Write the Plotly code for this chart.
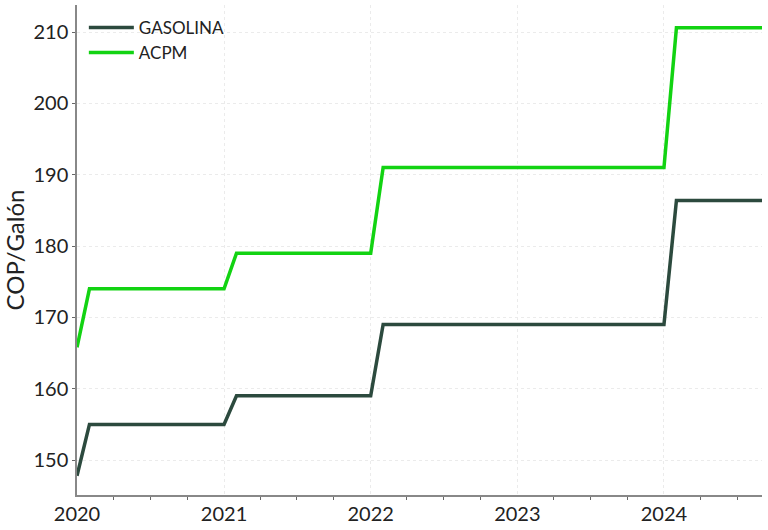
import plotly.graph_objects as go
import pandas as pd

months = pd.date_range("2020-01-01", "2024-09-01", freq="MS")

# yearly levels (value in Jan 2020, then Feb-Dec level per year)
gas_jan2020 = 147.8
gas_levels = {2020: 155, 2021: 159, 2022: 169, 2023: 169, 2024: 186.4}
acpm_jan2020 = 165.8
acpm_levels = {2020: 174, 2021: 179, 2022: 191, 2023: 191, 2024: 210.6}

def build(jan0, levels):
    vals = []
    for d in months:
        if d.year == 2020 and d.month == 1:
            vals.append(jan0)
        elif d.month == 1:
            vals.append(levels[d.year - 1])
        else:
            vals.append(levels[d.year])
    return vals

gasolina = build(gas_jan2020, gas_levels)
acpm = build(acpm_jan2020, acpm_levels)

FONT = "Lato"
fig = go.Figure()
fig.add_trace(go.Scatter(x=months, y=gasolina, mode="lines", name="GASOLINA",
                         line=dict(color="#2C4A3E", width=3.5)))
fig.add_trace(go.Scatter(x=months, y=acpm, mode="lines", name="ACPM",
                         line=dict(color="#12D312", width=3.5)))

fig.update_layout(
    width=768, height=530,
    margin=dict(l=77, r=6, t=5, b=33),
    paper_bgcolor="white", plot_bgcolor="white",
    font=dict(family=FONT, color="#222"),
    legend=dict(x=0.01, y=0.99, xanchor="left", yanchor="top",
                bgcolor="rgba(0,0,0,0)", font=dict(size=17, family=FONT, color="#222"),
                tracegroupgap=0, itemwidth=45),
    showlegend=True,
)
fig.update_xaxes(
    range=["2020-01-01", "2024-09-01"],
    dtick="M12", tickformat="%Y",
    tickfont=dict(size=20, family=FONT, color="#222"),
    showline=True, linecolor="#888", linewidth=1.5,
    showgrid=True, gridcolor="#ebebeb", griddash="dot", gridwidth=1,
    ticks="", zeroline=False,
    minor=dict(dtick="M3", ticks="outside", ticklen=3, tickcolor="#666", showgrid=False),
)
fig.update_yaxes(
    range=[145.1, 213.8],
    dtick=10,
    tickfont=dict(size=20, family=FONT, color="#222"),
    title=dict(text="COP/Galón", font=dict(size=24, family=FONT, color="#222"), standoff=6),
    showline=True, linecolor="#888", linewidth=1.5,
    showgrid=True, gridcolor="#ebebeb", griddash="dot", gridwidth=1,
    ticks="outside", ticklen=3, tickcolor="#666", zeroline=False,
)

fig.write_html("out.html", config={"displayModeBar": False},
               post_script="document.body.style.margin='0';")
